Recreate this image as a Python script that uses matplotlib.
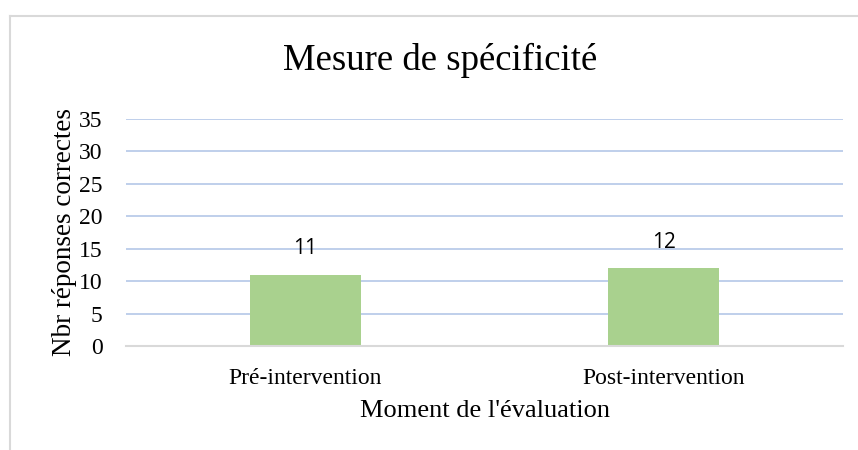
import matplotlib.pyplot as plt
from matplotlib.lines import Line2D

categories = ["Pré-intervention", "Post-intervention"]
values = [11, 12]
yticks = [0, 5, 10, 15, 20, 25, 30, 35]

serif = ["Liberation Serif", "DejaVu Serif"]
plt.rcParams['font.family'] = serif

fig = plt.figure(figsize=(8.58, 4.5), dpi=100)
ax = fig.add_axes([126/858, 1 - 346/450, 717/858, (346 - 119)/450])

x = range(len(categories))
bars = ax.bar(x, values, width=0.31, color="#A9D18E", zorder=3)
for b, v in zip(bars, values):
    ax.text(b.get_x() + b.get_width()/2, v + 4, str(v), ha="center", va="center",
            fontsize=15, family=["Open Sans", "DejaVu Sans"], color="#000000")

ax.set_xlim(-0.5, 1.5)
ax.set_ylim(0, 35)
ax.set_yticks(yticks)
ax.set_xticks(list(x))
ax.set_xticklabels(categories)
ax.tick_params(axis="both", length=0, labelsize=17, colors="black")
ax.tick_params(axis="x", pad=16)
ax.tick_params(axis="y", pad=17)
ax.grid(axis="y", color="#B4C7E7", linewidth=1.2, zorder=0)
for s in ["top", "right", "left"]:
    ax.spines[s].set_visible(False)
ax.spines["bottom"].set_color("#D9D9D9")
ax.spines["bottom"].set_linewidth(1.5)
ax.spines["bottom"].set_zorder(4)

ax.set_xlabel("Moment de l'évaluation", fontsize=19, labelpad=8)
ax.set_ylabel("Nbr réponses correctes", fontsize=19.5, labelpad=1)
fig.text(440/858, 1 - 60/450, "Mesure de spécificité", ha="center", va="center", fontsize=26.5)

# chart frame
fig.add_artist(Line2D([10/858, 1], [1 - 16/450] * 2, color="#D9D9D9", lw=1.5))
fig.add_artist(Line2D([10/858] * 2, [0, 1 - 16/450], color="#D9D9D9", lw=1.5))

fig.savefig("out.png", dpi=100)
